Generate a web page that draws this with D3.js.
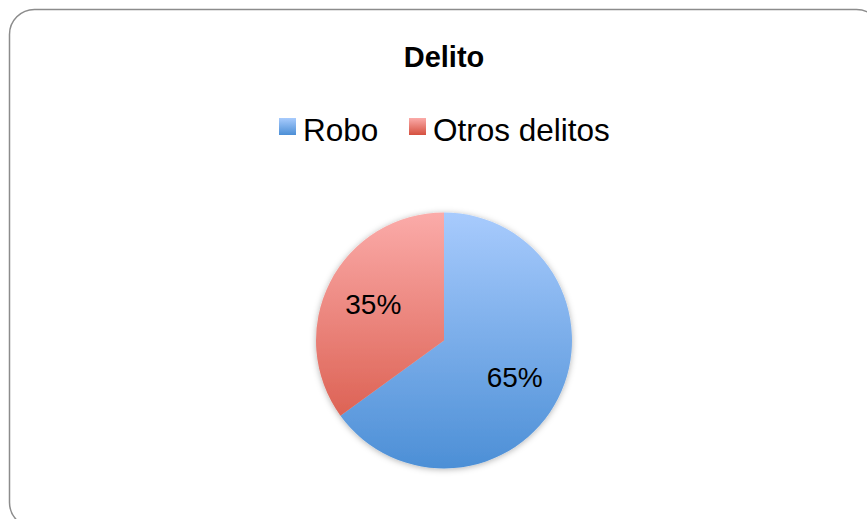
<!DOCTYPE html>
<html>
<head>
<meta charset="utf-8">
<script src="https://cdn.jsdelivr.net/npm/d3@7"></script>
<style>
  body { margin: 0; background: #fff; }
  text { font-family: "Liberation Sans", Arial, sans-serif; }
</style>
</head>
<body>
<div id="chart"></div>
<script>
  var title = "Delito";
  var categories = ["Robo", "Otros delitos"];
  var values = [65, 35];
  var topColors = ["#a8cbfd", "#fbaba9"];
  var bottomColors = ["#4c8fd6", "#d5503f"];

  var w = 867, h = 519;
  var cx = 444, cy = 340.5, r = 128;

  var svg = d3.select("#chart").append("svg").attr("width", w).attr("height", h);
  var defs = svg.append("defs");

  // frame
  svg.append("rect")
    .attr("x", 9.5).attr("y", 9.5)
    .attr("width", 872).attr("height", 518)
    .attr("rx", 25).attr("ry", 25)
    .attr("fill", "#fff").attr("stroke", "#8c8c8c").attr("stroke-width", 1.5);

  svg.append("text")
    .attr("x", cx).attr("y", 67)
    .attr("text-anchor", "middle")
    .attr("font-size", 29).attr("font-weight", "bold")
    .text(title);

  categories.forEach(function (c, i) {
    var g = defs.append("linearGradient")
      .attr("id", "grad" + i)
      .attr("gradientUnits", "userSpaceOnUse")
      .attr("x1", 0).attr("y1", cy - r).attr("x2", 0).attr("y2", cy + r);
    g.append("stop").attr("offset", 0).attr("stop-color", topColors[i]);
    g.append("stop").attr("offset", 1).attr("stop-color", bottomColors[i]);

    var lg = defs.append("linearGradient")
      .attr("id", "lgrad" + i)
      .attr("x1", 0).attr("y1", 0).attr("x2", 0).attr("y2", 1);
    lg.append("stop").attr("offset", 0).attr("stop-color", topColors[i]);
    lg.append("stop").attr("offset", 1).attr("stop-color", bottomColors[i]);
  });

  var shadow = defs.append("filter").attr("id", "shadow")
    .attr("x", "-20%").attr("y", "-20%").attr("width", "140%").attr("height", "140%");
  shadow.append("feDropShadow")
    .attr("dx", 0).attr("dy", 1).attr("stdDeviation", 3)
    .attr("flood-color", "#000").attr("flood-opacity", 0.3);

  // legend
  var legendX = [279, 409];
  var legend = svg.append("g");
  categories.forEach(function (c, i) {
    legend.append("rect")
      .attr("x", legendX[i]).attr("y", 118)
      .attr("width", 17).attr("height", 17)
      .attr("fill", "url(#lgrad" + i + ")");
    legend.append("text")
      .attr("x", legendX[i] + 24).attr("y", 141)
      .attr("font-size", 31.5)
      .text(c);
  });

  var pie = d3.pie().sort(null).value(function (d) { return d; });
  var arc = d3.arc().innerRadius(0).outerRadius(r);
  var labelArc = d3.arc().innerRadius(r * 0.62).outerRadius(r * 0.62);
  var arcs = pie(values);

  var pg = svg.append("g").attr("transform", "translate(" + cx + "," + cy + ")");
  var slices = pg.append("g").attr("filter", "url(#shadow)");
  slices.selectAll("path").data(arcs).enter().append("path")
    .attr("d", arc)
    .attr("transform", "translate(0,0)")
    .attr("fill", function (d, i) { return "url(#grad" + i + ")"; });

  // gradient defined in page coords, so shift it into the pie group
  defs.selectAll("linearGradient").filter(function () { return this.id.indexOf("grad") === 0; })
    .attr("gradientTransform", "translate(0," + (-cy) + ")");

  var total = d3.sum(values);
  pg.selectAll("text.lbl").data(arcs).enter().append("text")
    .attr("class", "lbl")
    .attr("transform", function (d) {
      var p = labelArc.centroid(d);
      return "translate(" + p[0] + "," + (p[1] + 10) + ")";
    })
    .attr("text-anchor", "middle")
    .attr("font-size", 28)
    .text(function (d) { return Math.round(d.data / total * 100) + "%"; });
</script>
</body>
</html>
